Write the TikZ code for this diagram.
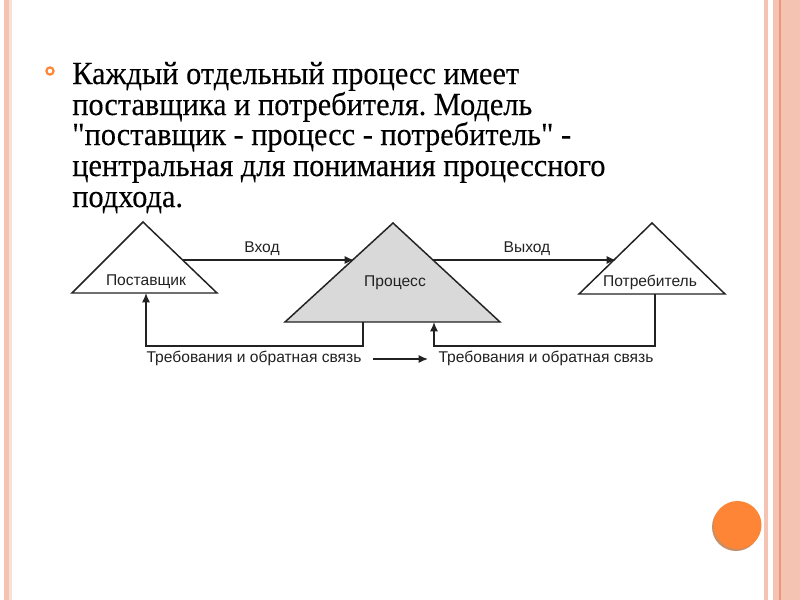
\documentclass[tikz,border=0pt]{standalone}
\usepackage{fontspec}
\setmainfont[Ligatures=TeXOff,FakeStretch=0.94,FakeBold=0.2]{Liberation Serif}
\newfontfamily\diagfont{Liberation Sans}
\usetikzlibrary{arrows.meta,calc}
\frenchspacing
\definecolor{salmon}{HTML}{F4C3B2}
\definecolor{salmondark}{HTML}{EE9580}
\definecolor{dotorange}{HTML}{FD8535}
\definecolor{procgray}{HTML}{D9D9D9}
\definecolor{ink}{HTML}{222222}
\tikzset{
  tri/.style={draw=ink, line width=1.1pt, line join=miter},
  flow/.style={draw=ink, line width=1.1pt, -{Latex[length=7pt,width=6pt]}},
  lbl/.style={font=\diagfont\fontsize{11.7pt}{13pt}\selectfont, text=ink, inner sep=0pt},
  bodytext/.style={font=\fontsize{24.2pt}{28pt}\selectfont, anchor=base west, inner sep=0pt, text=black}
}
\begin{document}
\begin{tikzpicture}[x=0.75pt,y=-0.75pt]
\useasboundingbox (0,0) rectangle (800,600);
\fill[white] (0,0) rectangle (800,600);
% borders
\fill[salmon] (4,0) rectangle (9,600);
\fill[salmon!50] (9,0) rectangle (12,600);
\fill[salmon] (764,0) rectangle (768,600);
\fill[salmon] (773,0) rectangle (800,600);
\draw[salmondark, line width=0.8pt] (780,0) -- (780,600);
% orange dot
\fill[black!30!dotorange!70] (736,527) circle (24);
\fill[dotorange] (737.5,525) circle (24);
% bullet
\draw[dotorange, line width=1.6pt] (50,71) circle (3.6);
% body text
\node[bodytext] (t1) at (72,84) {Каждый отдельный процесс имеет};
\node[bodytext] (t2) at (72,115) {поставщика и потребителя. Модель};
\node[bodytext] (t3) at (72,145) {"поставщик - процесс - потребитель" -};
\node[bodytext] (t4) at (72,176) {центральная для понимания процессного};
\node[bodytext] (t5) at (72,207) {подхода.};
% triangles
\coordinate (sA) at (143,222); \coordinate (sL) at (72,293); \coordinate (sR) at (217,293);
\coordinate (pA) at (393,223); \coordinate (pL) at (285,322); \coordinate (pR) at (500,322);
\coordinate (cA) at (652,223); \coordinate (cL) at (579,294); \coordinate (cR) at (725,294);
\draw[tri] (sA) -- (sL) -- (sR) -- cycle;
\draw[tri, fill=procgray] (pA) -- (pL) -- (pR) -- cycle;
\draw[tri] (cA) -- (cL) -- (cR) -- cycle;
\node[lbl] (supplier) at (146,282) {Поставщик};
\node[lbl] (process) at (395,283) {Процесс};
\node[lbl] (consumer) at (650,282) {Потребитель};
% input / output
\coordinate (inS) at (182.6,260); \coordinate (inE) at (354,260);
\coordinate (outS) at (432.6,260); \coordinate (outE) at (616,260);
\draw[flow] (inS) -- (inE);
\draw[flow] (outS) -- (outE);
\node[lbl] (vhod) at (262,249) {Вход};
\node[lbl] (vyhod) at (527,249) {Выход};
% feedback loops
\coordinate (f1s) at (363,322); \coordinate (f1e) at (146,293);
\coordinate (f2s) at (655,294); \coordinate (f2e) at (434,322);
\draw[flow] (f1s) -- (363,346) -- (146,346) -- (f1e);
\draw[flow] (f2s) -- (655,346) -- (434,346) -- (f2e);
\node[lbl] (req1) at (254,358) {Требования и обратная связь};
\node[lbl] (req2) at (546,358) {Требования и обратная связь};
\coordinate (mS) at (373,359); \coordinate (mE) at (428,359);
\draw[flow] (mS) -- (mE);
\end{tikzpicture}
\end{document}
